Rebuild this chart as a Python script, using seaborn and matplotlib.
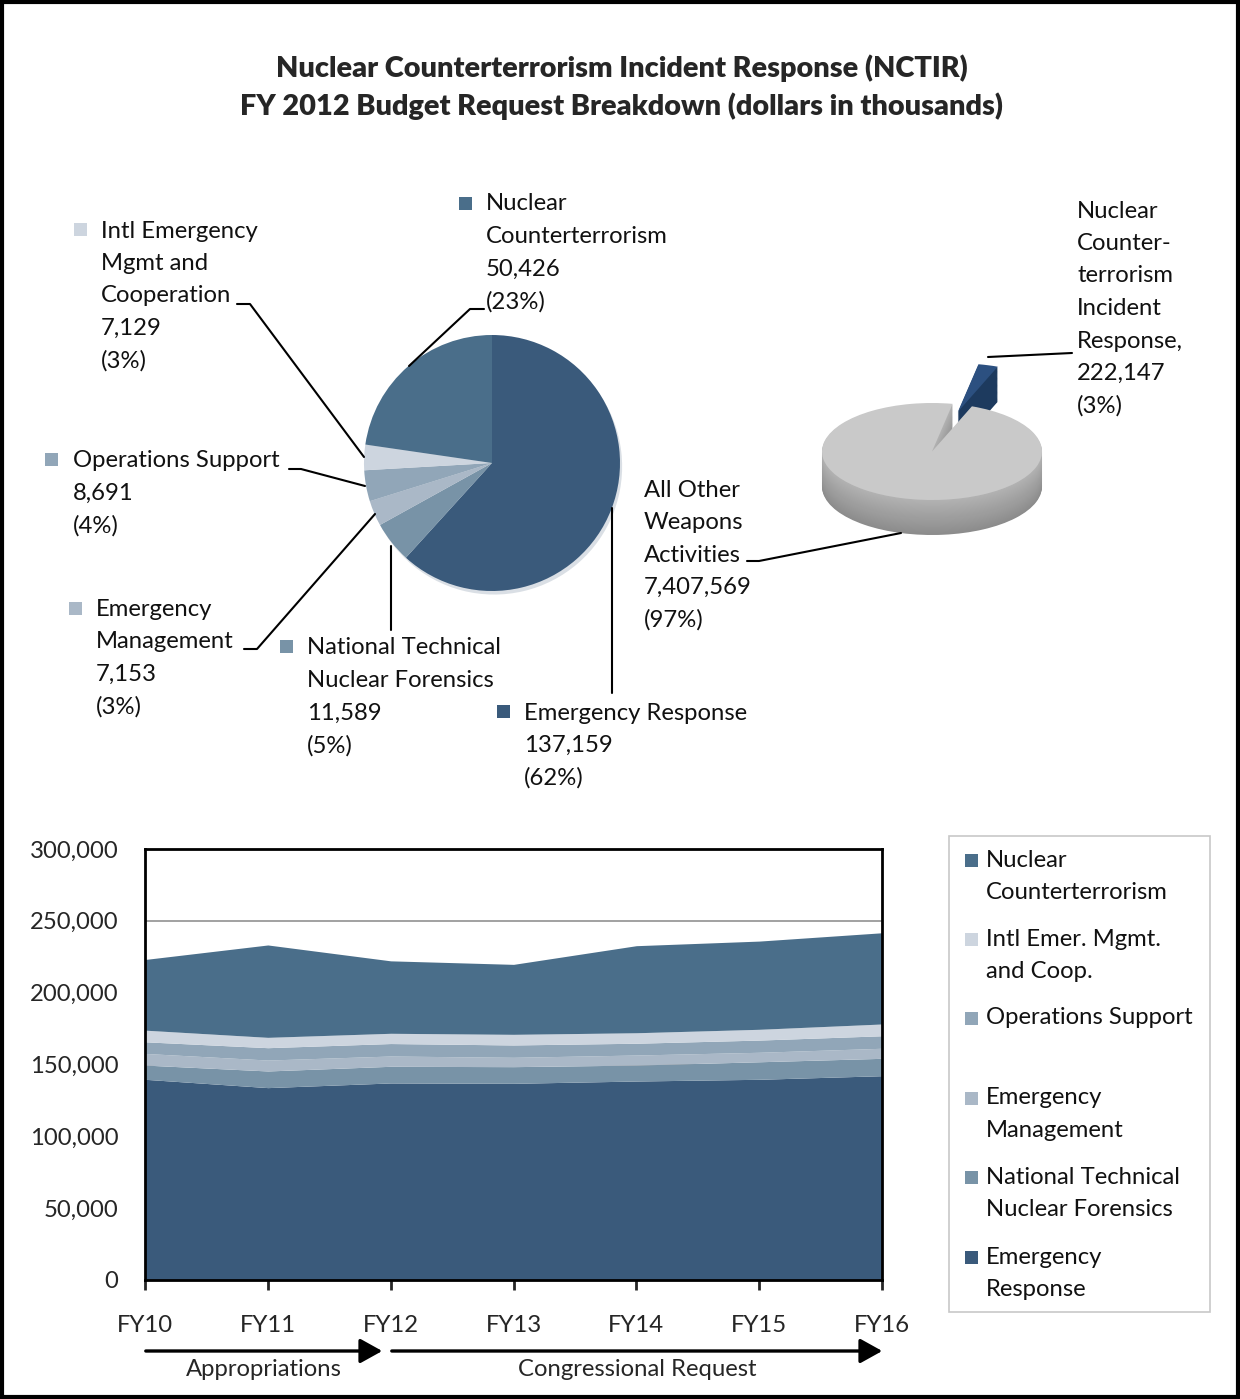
import numpy as np
import matplotlib
matplotlib.use("Agg")
import matplotlib.pyplot as plt
import seaborn as sns
from matplotlib.patches import Rectangle
from matplotlib.lines import Line2D

sns.set_style("white")
plt.rcParams['font.family'] = ['Lato', 'DejaVu Sans']

# ---------------- data ----------------
categories = ["Emergency Response", "National Technical Nuclear Forensics",
              "Emergency Management", "Operations Support",
              "Intl Emergency Mgmt and Cooperation", "Nuclear Counterterrorism"]
fy12_values = [137159, 11589, 7153, 8691, 7129, 50426]

years = ["FY10", "FY11", "FY12", "FY13", "FY14", "FY15", "FY16"]
er_series   = [139700, 133900, 137159, 136900, 138500, 139700, 142200]
ntnf_series = [9900, 11600, 11589, 11600, 11100, 12200, 12100]
em_series   = [8100, 7600, 7153, 6500, 7000, 6600, 7000]
os_series   = [8100, 8600, 8691, 8600, 8200, 8500, 8700]
intl_series = [8100, 7200, 7129, 7400, 7300, 7500, 8200]
nc_series   = [49200, 64300, 50426, 48700, 60600, 61400, 63500]

weapons_labels = ["All Other Weapons Activities", "NCTIR"]
weapons_values = [7407569, 222147]

colors = {
    "ER": "#3a5a7b",
    "NTNF": "#7893a7",
    "EM": "#aab8c7",
    "OS": "#91a6b8",
    "INTL": "#cdd5df",
    "NC": "#4a6e8a",
}
col_list = [colors["ER"], colors["NTNF"], colors["EM"], colors["OS"], colors["INTL"], colors["NC"]]

W, H = 1240, 1399
fig = plt.figure(figsize=(W / 100, H / 100), dpi=100)

def fx(x):
    return x / W

def fy(y):
    return 1 - y / H

FS = 17.2
LS = 32.5

def text_block(x, y, lines, fs=FS):
    for i, ln in enumerate(lines):
        fig.text(fx(x), fy(y + i * LS), ln, fontsize=fs, va="center", ha="left", color="#111111")

def square(x, y, c, s=13):
    fig.patches.append(Rectangle((fx(x - s / 2), fy(y + s / 2)), s / W, s / H, transform=fig.transFigure,
                                 facecolor=c, edgecolor="none"))

def leader(xs, ys):
    fig.add_artist(Line2D([fx(v) for v in xs], [fy(v) for v in ys], transform=fig.transFigure,
                          color="black", lw=1.5))

# ---------------- title ----------------
fig.text(fx(622), fy(68), "Nuclear Counterterrorism Incident Response (NCTIR)", ha="center", va="center",
         fontsize=20.8, fontweight="heavy")
fig.text(fx(622), fy(106), "FY 2012 Budget Request Breakdown (dollars in thousands)", ha="center", va="center",
         fontsize=20.8, fontweight="heavy")

# ---------------- main pie ----------------
cx, cy, r = 492, 463, 128
axp = fig.add_axes([fx(cx - r), fy(cy + r), 2 * r / W, 2 * r / H])
axp.pie(fy12_values, colors=col_list, startangle=90, counterclock=False,
        wedgeprops=dict(linewidth=0), shadow=dict(ox=0.012, oy=-0.02, shade=0.1, alpha=0.18))
axp.set_xlim(-1, 1)
axp.set_ylim(-1, 1)
axp.set_aspect("auto")
axp.axis("off")

total = sum(fy12_values)
def pct(v, t):
    return f"({round(100 * v / t)}%)"

# labels
v = dict(zip(categories, fy12_values))
square(465, 203, colors["NC"])
text_block(486, 204, ["Nuclear", "Counterterrorism", f"{v['Nuclear Counterterrorism']:,}",
                      pct(v['Nuclear Counterterrorism'], total)])
leader([484, 470, 409], [309, 309, 366])

square(80, 229, colors["INTL"])
text_block(101, 231, ["Intl Emergency", "Mgmt and", "Cooperation",
                      f"{v['Intl Emergency Mgmt and Cooperation']:,}",
                      pct(v['Intl Emergency Mgmt and Cooperation'], total)])
leader([237, 250, 364], [304, 304, 457])

square(52, 460, colors["OS"])
text_block(73, 461, ["Operations Support", f"{v['Operations Support']:,}", pct(v['Operations Support'], total)])
leader([289, 301, 365], [469, 469, 486])

square(75, 608, colors["EM"])
text_block(96, 609, ["Emergency", "Management", f"{v['Emergency Management']:,}",
                     pct(v['Emergency Management'], total)])
leader([244, 257, 375], [649, 649, 514])

square(286, 646, colors["NTNF"])
text_block(307, 648, ["National Technical", "Nuclear Forensics",
                      f"{v['National Technical Nuclear Forensics']:,}",
                      pct(v['National Technical Nuclear Forensics'], total)])
leader([391, 391], [546, 630])

square(503, 711, colors["ER"])
text_block(524, 713, ["Emergency Response", f"{v['Emergency Response']:,}", pct(v['Emergency Response'], total)])
leader([612, 612], [508, 693])

# ---------------- 3D pie ----------------
pcx, pcy, a, b = 932, 451.5, 110, 48.5
ax3 = fig.add_axes([fx(pcx - 2.2 * a), fy(pcy + 2.0 * b), 4.4 * a / W, 4.5 * b / H])
wtot = sum(weapons_values)
thick = 35 / b
nlay = 40
for i in range(nlay, 0, -1):
    off = thick * i / nlay
    shade = 0.55 + 0.15 * (1 - i / nlay)
    ax3.pie(weapons_values, colors=[(shade, shade, shade), "#1d3a5e"], startangle=79.2,
            explode=[0, 0.85], center=(0, -off), wedgeprops=dict(linewidth=0))
ax3.pie(weapons_values, colors=["#c9c9c9", "#2c5080"], startangle=79.2,
        explode=[0, 0.85], center=(0, 0), wedgeprops=dict(linewidth=0))
ax3.set_xlim(-2.2, 2.2)
ax3.set_ylim(-2.0, 2.5)
ax3.set_aspect("auto")
ax3.axis("off")

text_block(1077, 211, ["Nuclear", "Counter-", "terrorism", "Incident", "Response,",
                       f"{weapons_values[1]:,}", pct(weapons_values[1], wtot)])
leader([988, 1072], [357, 353])
text_block(644, 490, ["All Other", "Weapons", "Activities", f"{weapons_values[0]:,}",
                      pct(weapons_values[0], wtot)])
leader([747, 759, 901], [561, 561, 533])

# ---------------- stacked area ----------------
axs = fig.add_axes([fx(145), fy(1280), (882 - 145) / W, (1280 - 849) / H])
x = np.arange(len(years))
axs.stackplot(x, er_series, ntnf_series, em_series, os_series, intl_series, nc_series,
              colors=col_list, linewidth=0, zorder=2)
axs.set_xlim(0, len(years) - 1)
axs.set_ylim(0, 300000)
axs.set_yticks(np.arange(0, 300001, 50000))
axs.set_yticklabels([f"{t:,}" for t in range(0, 300001, 50000)], fontsize=FS)
axs.set_xticks(x)
axs.set_xticklabels(years, fontsize=FS)
axs.yaxis.grid(True, color="#9a9a9a", lw=1.3, zorder=0)
axs.set_axisbelow(True)
axs.tick_params(axis="y", length=0, pad=19)
axs.tick_params(axis="x", length=7, width=2, direction="out", pad=18, bottom=True)
for s in axs.spines.values():
    s.set_visible(True)
    s.set_color("black")
    s.set_linewidth(2)
    s.set_zorder(5)

# manual legend
fig.patches.append(Rectangle((fx(949), fy(1312)), (1210 - 949) / W, (1312 - 836) / H, transform=fig.transFigure,
                             facecolor="white", edgecolor="#c8c8c8", lw=1.2))
leg_entries = [(colors["NC"], ["Nuclear", "Counterterrorism"], 860),
               (colors["INTL"], ["Intl Emer. Mgmt.", "and Coop."], 939),
               (colors["OS"], ["Operations Support"], 1018),
               (colors["EM"], ["Emergency", "Management"], 1098),
               (colors["NTNF"], ["National Technical", "Nuclear Forensics"], 1177),
               (colors["ER"], ["Emergency", "Response"], 1257)]
for c, lines, yy in leg_entries:
    square(971, yy, c)
    text_block(986, yy, lines)

# arrows
for (x0, x1) in [(143, 385), (389, 885)]:
    fig.add_artist(matplotlib.patches.FancyArrowPatch((fx(x0), fy(1351)), (fx(x1), fy(1351)),
                                                      transform=fig.transFigure, arrowstyle="-|>,head_length=9,head_width=5",
                                                      mutation_scale=1.5, color="black", lw=2.4))
fig.text(fx(264), fy(1370), "Appropriations", ha="center", va="center", fontsize=FS)
fig.text(fx(637), fy(1370), "Congressional Request", ha="center", va="center", fontsize=FS)

# border
fig.patches.append(Rectangle((0.0015, 0.0012), 0.997, 0.9976, transform=fig.transFigure,
                             fill=False, edgecolor="black", lw=3))

fig.savefig("out.png", dpi=100)
